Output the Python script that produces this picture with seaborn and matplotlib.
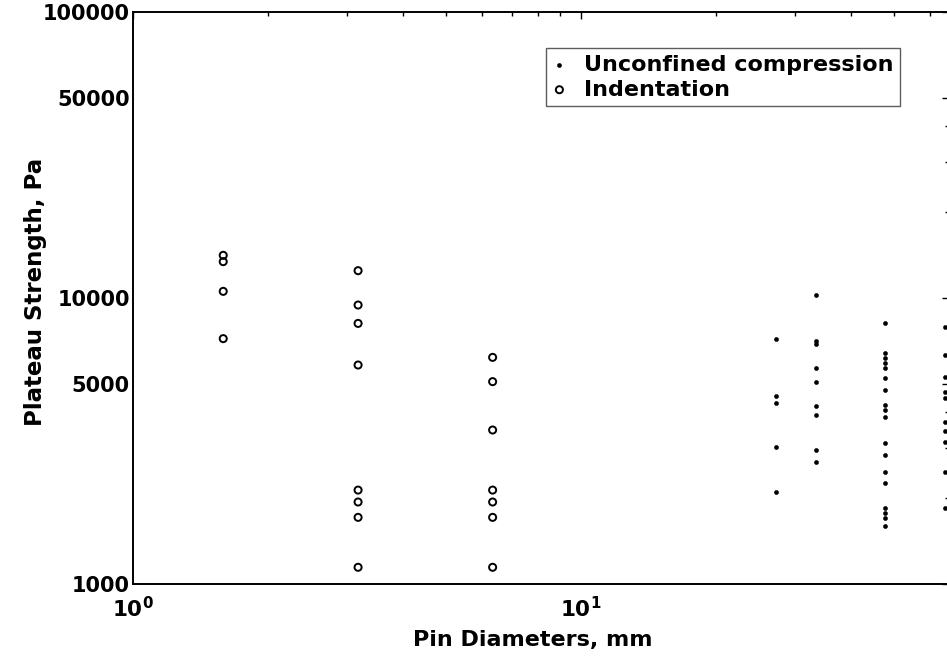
import numpy as np
import pandas as pd
import matplotlib
matplotlib.use("Agg")
import matplotlib.pyplot as plt
from matplotlib.ticker import FixedLocator, FixedFormatter, NullFormatter
import seaborn as sns

# Indentation tests: plateau strength (Pa) for each pin diameter (mm)
indent_diam_small = 1.59
indent_small = [14100, 13400, 10550, 7210]
indent_diam_mid = 3.18
indent_mid = [12460, 9450, 8150, 5830, 2130, 1935, 1710, 1144]
indent_diam_large = 6.35
indent_large = [6200, 5100, 3455, 2130, 1935, 1710, 1144]

# Unconfined compression tests: plateau strength (Pa) for each sample diameter (mm)
ucs_diam_a = 27.2
ucs_a = [7190, 4540, 4300, 3020, 2100]
ucs_diam_b = 33.4
ucs_b = [10240, 7100, 6900, 5680, 5100, 4190, 3900, 2940, 2660]
ucs_diam_c = 47.7
ucs_c = [8200, 6410, 6150, 5910, 5680, 5240, 4770, 4225, 4060, 3850,
         3105, 2825, 2470, 2250, 1840, 1770, 1700, 1590]
ucs_diam_d = 64.9
ucs_d = [7935, 6320, 5280, 4700, 4460, 3680, 3430, 3145, 2470, 1840]

x_major = [1, 10]
x_major_labels = [r"$\mathbf{10^{0}}$", r"$\mathbf{10^{1}}$"]
y_major = [1000, 5000, 10000, 50000, 100000]
y_major_labels = ["1000", "5000", "10000", "50000", "100000"]
y_minor = [2000, 3000, 4000, 20000, 30000, 40000]

indent_df = pd.DataFrame({
    "diameter": [indent_diam_small] * len(indent_small)
    + [indent_diam_mid] * len(indent_mid)
    + [indent_diam_large] * len(indent_large),
    "strength": indent_small + indent_mid + indent_large,
})
ucs_df = pd.DataFrame({
    "diameter": [ucs_diam_a] * len(ucs_a) + [ucs_diam_b] * len(ucs_b)
    + [ucs_diam_c] * len(ucs_c) + [ucs_diam_d] * len(ucs_d),
    "strength": ucs_a + ucs_b + ucs_c + ucs_d,
})

sns.set_style("white")
plt.rcParams["font.family"] = ["DejaVu Sans"]
plt.rcParams["font.weight"] = "bold"
plt.rcParams["mathtext.fontset"] = "dejavusans"
for key in ["text.color", "axes.labelcolor", "xtick.color", "ytick.color",
            "axes.edgecolor"]:
    plt.rcParams[key] = "black"

fig = plt.figure(figsize=(9.47, 6.56), dpi=100)
ax = fig.add_axes([133 / 947, 72 / 656, 816 / 947, 572 / 656])

sns.scatterplot(data=ucs_df, x="diameter", y="strength", ax=ax,
                marker=".", s=34, color="black", edgecolor="black",
                linewidth=0.4, label="Unconfined compression")
sns.scatterplot(data=indent_df, x="diameter", y="strength", ax=ax,
                marker="o", s=26, facecolors="none", edgecolor="black",
                linewidth=1.4, label="Indentation")

ax.set_xscale("log")
ax.set_yscale("log")
ax.set_xlim(1, 66.3)
ax.set_ylim(1000, 100000)

ax.xaxis.set_major_locator(FixedLocator(x_major))
ax.xaxis.set_major_formatter(FixedFormatter(x_major_labels))
ax.xaxis.set_minor_locator(FixedLocator(
    [m * 10 ** e for e in range(0, 2) for m in range(2, 10)]))
ax.xaxis.set_minor_formatter(NullFormatter())
ax.yaxis.set_major_locator(FixedLocator(y_major))
ax.yaxis.set_major_formatter(FixedFormatter(y_major_labels))
ax.yaxis.set_minor_locator(FixedLocator(y_minor))
ax.yaxis.set_minor_formatter(NullFormatter())

ax.tick_params(which="both", direction="in", top=True, right=True,
               color="black", width=1.0)
ax.tick_params(which="major", length=5)
ax.tick_params(which="minor", length=3)
ax.tick_params(axis="y", which="major", pad=2.2, labelsize=15)
ax.tick_params(axis="x", which="major", pad=9, labelsize=15.5)
for lab in ax.get_yticklabels() + ax.get_xticklabels():
    lab.set_fontweight("bold")

for side in ["left", "bottom", "top", "right"]:
    ax.spines[side].set_visible(True)
    ax.spines[side].set_color("black")
    ax.spines[side].set_linewidth(1.4)

ax.set_xlabel("Pin Diameters, mm", fontsize=16, fontweight="bold",
              va="center", ha="center")
ax.xaxis.set_label_coords(0.49, -0.098)
ax.set_ylabel("Plateau Strength, Pa", fontsize=16.5, fontweight="bold",
              va="center", ha="center")
ax.yaxis.set_label_coords((36 - 133) / 816, 0.51)

leg = ax.legend(loc="upper right", bbox_to_anchor=(900 / 947, 1 - 48 / 656),
                bbox_transform=fig.transFigure, borderaxespad=0,
                frameon=True, fancybox=False, fontsize=16,
                handlelength=0.6, handletextpad=0.8, borderpad=0.3,
                labelspacing=0.22, markerscale=1.0)
leg.get_frame().set_edgecolor("#333333")
leg.get_frame().set_linewidth(1.0)
for t in leg.get_texts():
    t.set_fontweight("bold")
    t.set_color("black")

fig.savefig("out.png", dpi=100)
